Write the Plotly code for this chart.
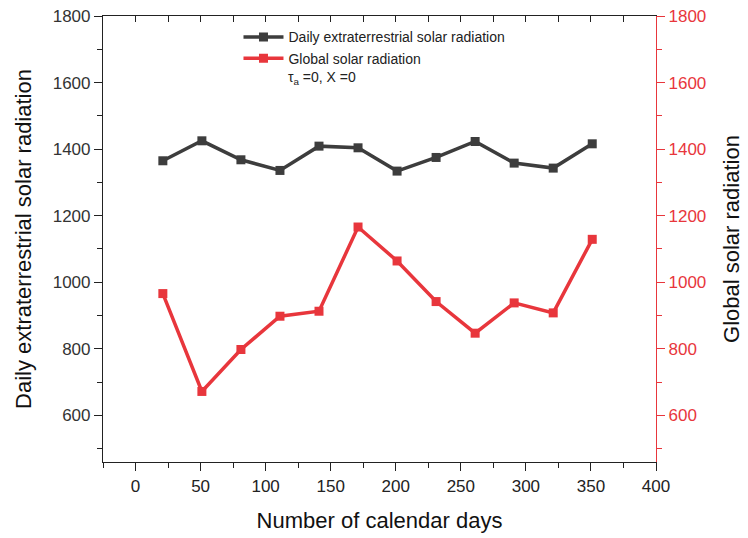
import plotly.graph_objects as go

days = [21, 51, 81, 111, 141, 171, 201, 231, 261, 291, 321, 351]
extraterrestrial = [1365, 1425, 1368, 1336, 1409, 1404, 1334, 1375, 1423, 1358, 1343, 1416]
global_rad = [966, 672, 798, 898, 913, 1166, 1064, 942, 847, 938, 908, 1129]

BLACK = "#3d3d3d"
RED = "#e8363c"
FONT = "Arial, Liberation Sans, sans-serif"

fig = go.Figure()
fig.add_trace(go.Scatter(
    x=days, y=extraterrestrial, mode="lines+markers",
    name="Daily extraterrestrial solar radiation",
    line=dict(color=BLACK, width=3.5),
    marker=dict(symbol="square", size=9, color=BLACK),
))
fig.add_trace(go.Scatter(
    x=days, y=global_rad, mode="lines+markers",
    name="Global solar radiation",
    line=dict(color=RED, width=3.5),
    marker=dict(symbol="square", size=9, color=RED),
    yaxis="y2",
))
# invisible trace to activate top axis
fig.add_trace(go.Scatter(x=[0], y=[1000], xaxis="x2", mode="markers",
                         marker=dict(opacity=0), showlegend=False, hoverinfo="skip"))

xr = [-25, 400]
yr = [460, 1800]
fig.update_layout(
    width=748, height=538,
    margin=dict(l=103, r=92, t=16, b=76),
    plot_bgcolor="white", paper_bgcolor="white",
    font=dict(family=FONT, color="#222"),
    showlegend=True,
    legend=dict(x=0.245, y=0.988, xanchor="left", yanchor="top",
                bgcolor="rgba(0,0,0,0)", font=dict(size=14, color="#222"),
                tracegroupgap=0, itemwidth=40),
    xaxis=dict(
        range=xr, dtick=50, tick0=0, showgrid=False, zeroline=False, automargin=False,
        showline=True, linecolor="#222", linewidth=1.2,
        ticks="outside", ticklen=8, tickwidth=1.2, tickcolor="#222",
        minor=dict(dtick=25, ticks="outside", ticklen=5, tickcolor="#222", tickwidth=1.2),
        tickfont=dict(size=17, color="#222"),
        title=dict(text="Number of calendar days", font=dict(size=22, color="#111"), standoff=18),
    ),
    xaxis2=dict(
        range=xr, overlaying="x", side="top", dtick=25, tick0=0, automargin=False,
        showgrid=False, zeroline=False, showticklabels=False,
        showline=True, linecolor="#222", linewidth=1.2,
        ticks="inside", ticklen=6, tickwidth=1.2, tickcolor="#222",
    ),
    yaxis=dict(
        range=yr, dtick=200, tick0=0, showgrid=False, zeroline=False, automargin=False,
        showline=True, linecolor="#222", linewidth=1.2,
        ticks="outside", ticklen=8, tickwidth=1.2, tickcolor="#222",
        minor=dict(dtick=100, ticks="outside", ticklen=5, tickcolor="#222", tickwidth=1.2),
        tickfont=dict(size=17, color="#333"),
        title=dict(text="Daily extraterrestrial solar radiation", font=dict(size=22, color="#111"), standoff=14),
    ),
    yaxis2=dict(
        range=yr, dtick=200, tick0=0, overlaying="y", side="right", automargin=False,
        showgrid=False, zeroline=False,
        showline=True, linecolor=RED, linewidth=1.2,
        ticks="outside", ticklen=8, tickwidth=1.2, tickcolor=RED,
        minor=dict(dtick=100, ticks="outside", ticklen=5, tickcolor=RED, tickwidth=1.2),
        tickfont=dict(size=17, color=RED),
        title=dict(text="Global solar radiation", font=dict(size=22, color="#111"), standoff=18),
    ),
)
fig.add_annotation(
    xref="paper", yref="paper", x=(286 - 103) / 553, y=1 - (78 - 16) / 446,
    xanchor="left", yanchor="middle", showarrow=False,
    text="τ<sub>a</sub> =0, X =0", font=dict(size=14, color="#222"),
)
fig.write_html("out.html")
